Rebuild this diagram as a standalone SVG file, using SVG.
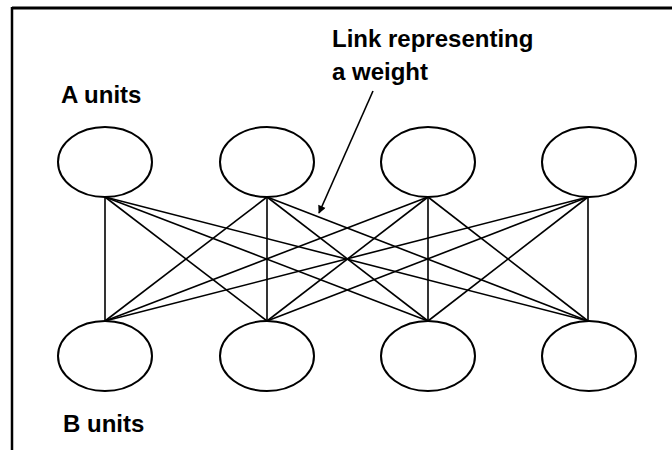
<svg xmlns="http://www.w3.org/2000/svg" width="672" height="450" viewBox="0 0 672 450">
  <style>
    .unit { fill: #fff; stroke: #000; stroke-width: 2; }
    .link { stroke: #000; stroke-width: 1.6; fill: none; }
    .label { font-family: "Liberation Sans", Arial, sans-serif; font-weight: bold; font-size: 24px; fill: #000; }
    .frame { stroke: #000; fill: none; }
  </style>
  <defs>
    <marker id="head" viewBox="0 0 10 10" refX="9" refY="5" markerWidth="10" markerHeight="8" markerUnits="userSpaceOnUse" orient="auto">
      <path d="M0,0 L10,5 L0,10 Z" fill="#000"/>
    </marker>
  </defs>
  <rect width="672" height="450" fill="#fff"/>

  <!-- frame: top and left rules -->
  <g id="frame">
    <line class="frame" x1="12" y1="8" x2="672" y2="8" stroke-width="3"/>
    <line class="frame" x1="12" y1="7" x2="12" y2="450" stroke-width="2.5"/>
  </g>

  <!-- weights: every A unit joined to every B unit -->
  <g id="connectors">
    <line class="link" x1="105" y1="197" x2="105" y2="321"/>
    <line class="link" x1="105" y1="197" x2="267" y2="321"/>
    <line class="link" x1="105" y1="197" x2="428" y2="321"/>
    <line class="link" x1="105" y1="197" x2="588" y2="321"/>
    <line class="link" x1="267" y1="197" x2="105" y2="321"/>
    <line class="link" x1="267" y1="197" x2="267" y2="321"/>
    <line class="link" x1="267" y1="197" x2="428" y2="321"/>
    <line class="link" x1="267" y1="197" x2="588" y2="321"/>
    <line class="link" x1="428" y1="197" x2="105" y2="321"/>
    <line class="link" x1="428" y1="197" x2="267" y2="321"/>
    <line class="link" x1="428" y1="197" x2="428" y2="321"/>
    <line class="link" x1="428" y1="197" x2="588" y2="321"/>
    <line class="link" x1="588" y1="197" x2="105" y2="321"/>
    <line class="link" x1="588" y1="197" x2="267" y2="321"/>
    <line class="link" x1="588" y1="197" x2="428" y2="321"/>
    <line class="link" x1="588" y1="197" x2="588" y2="321"/>
    <!-- pointer to one link -->
    <line class="link" x1="373" y1="91" x2="319" y2="213" marker-end="url(#head)"/>
  </g>

  <g id="a1"><ellipse class="unit" cx="105" cy="162" rx="47" ry="35"/></g>
  <g id="a2"><ellipse class="unit" cx="267" cy="162" rx="47" ry="35"/></g>
  <g id="a3"><ellipse class="unit" cx="428" cy="162" rx="47" ry="35"/></g>
  <g id="a4"><ellipse class="unit" cx="589" cy="162" rx="47" ry="35"/></g>

  <g id="b1"><ellipse class="unit" cx="105" cy="356" rx="47" ry="35"/></g>
  <g id="b2"><ellipse class="unit" cx="267" cy="356" rx="47" ry="35"/></g>
  <g id="b3"><ellipse class="unit" cx="428" cy="356" rx="47" ry="35"/></g>
  <g id="b4"><ellipse class="unit" cx="589" cy="356" rx="47" ry="35"/></g>

  <g id="labels">
    <text class="label" x="61" y="103">A units</text>
    <text class="label" x="63" y="432">B units</text>
    <text class="label" x="332" y="47">Link representing</text>
    <text class="label" x="332" y="80">a weight</text>
  </g>
</svg>
